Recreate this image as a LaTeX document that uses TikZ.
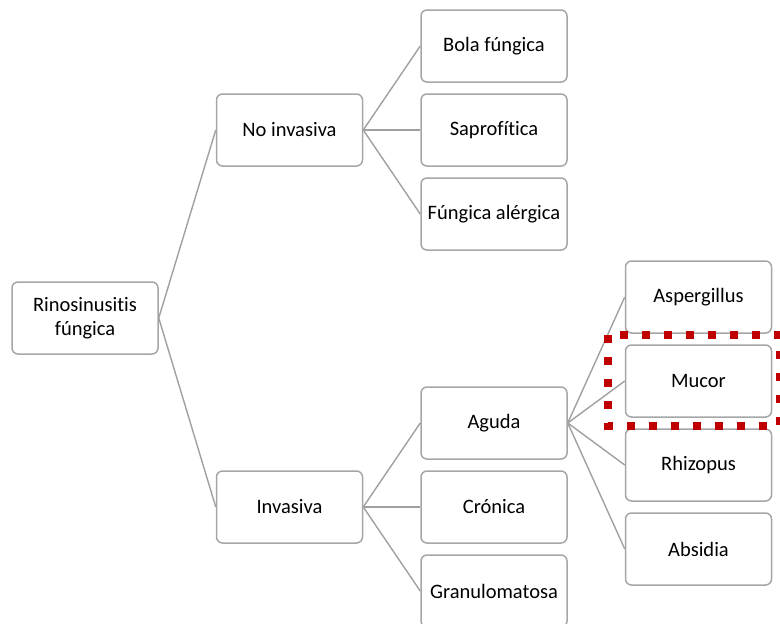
\documentclass[tikz,border=0pt]{standalone}
\usepackage{fontspec}
\setmainfont[Ligatures=NoCommon]{Carlito}
\definecolor{boxgray}{RGB}{166,166,166}
\definecolor{linegray}{RGB}{160,160,160}
\definecolor{markred}{RGB}{192,0,0}
\tikzset{
  box/.style={draw=boxgray, line width=1.5pt, rounded corners=6pt, fill=white,
    minimum width=146pt, minimum height=72pt, align=center,
    font=\fontsize{20.5}{24}\selectfont},
  conn/.style={draw=linegray, line width=1.4pt},
}
\begin{document}
\begin{tikzpicture}[x=1pt,y=-1pt]
	\useasboundingbox (0,0) rectangle (780,624);
	\clip (0,0) rectangle (780,624);
	% boxes
	\node[box] (root) at (85,318) {Rinosinusitis\\fúngica};
	\node[box] (noinv) at (289.5,130) {No invasiva};
	\node[box] (inv) at (289.5,507) {Invasiva};
	\node[box] (bola) at (494,46) {Bola fúngica};
	\node[box] (sapro) at (494,130) {Saprofítica};
	\node[box] (alerg) at (494,214) {Fúngica alérgica};
	\node[box] (aguda) at (494,423) {Aguda};
	\node[box] (cronica) at (494,507) {Crónica};
	\node[box] (granu) at (494,591) {Granulomatosa};
	\node[box] (asper) at (698.5,297) {Aspergillus};
	\node[box] (mucor) at (698.5,381) {Mucor};
	\node[box] (rhizo) at (698.5,465) {Rhizopus};
	\node[box] (absid) at (698.5,549) {Absidia};
	% lines
	\draw[conn] (root.east) -- (noinv.west);
	\draw[conn] (root.east) -- (inv.west);
	\foreach \c in {bola,sapro,alerg} \draw[conn] (noinv.east) -- (\c.west);
	\foreach \c in {aguda,cronica,granu} \draw[conn] (inv.east) -- (\c.west);
	\foreach \c in {asper,mucor,rhizo,absid} \draw[conn] (aguda.east) -- (\c.west);
	% highlight
	\draw[markred, line width=8pt, dash pattern=on 8pt off 14pt] (608,335) rectangle (780,426);
\end{tikzpicture}
\end{document}
